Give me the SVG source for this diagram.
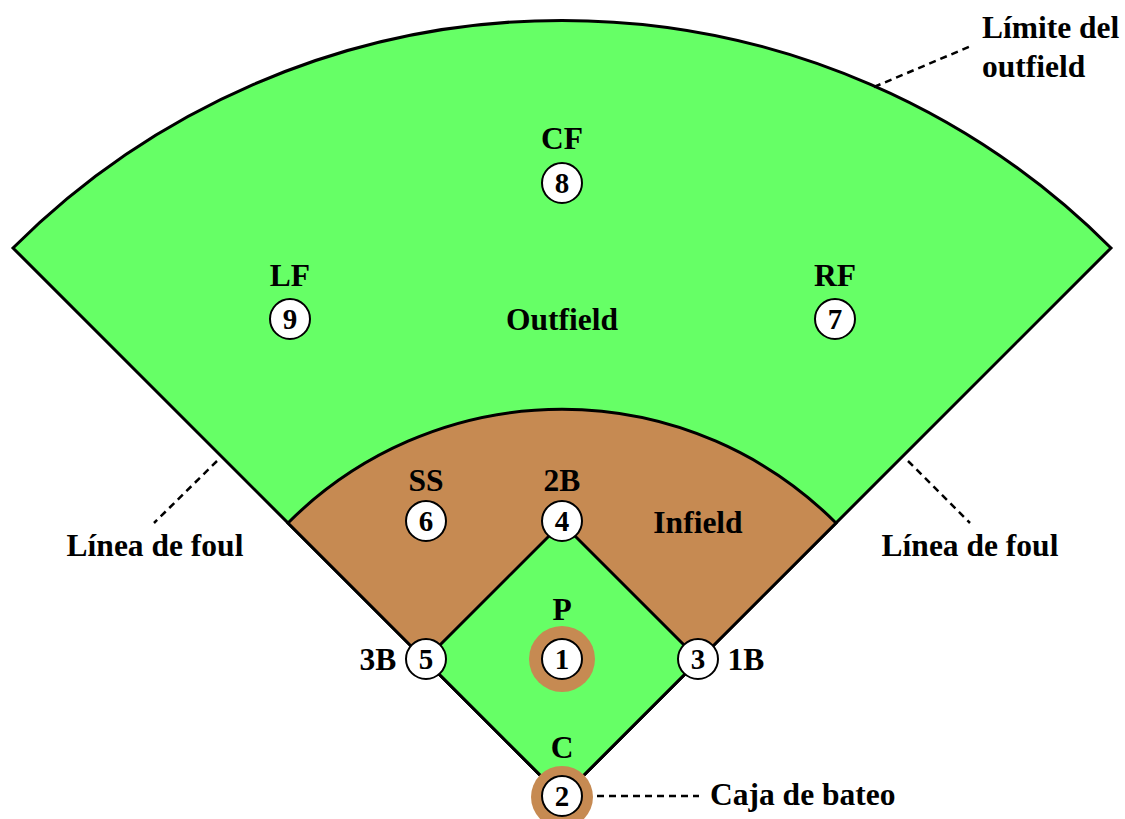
<svg xmlns="http://www.w3.org/2000/svg" width="1125" height="819" viewBox="0 0 1125 819">
<style>
.lbl{font-family:"Liberation Serif","Times New Roman",serif;font-weight:bold;font-size:31.5px;fill:#000;text-anchor:middle}
.num{font-family:"Liberation Serif","Times New Roman",serif;font-weight:bold;font-size:29px;fill:#000;text-anchor:middle}
.pc{fill:#fff;stroke:#000;stroke-width:2}
.dash{stroke:#000;stroke-width:2.5;stroke-dasharray:7 5;fill:none}
</style>
<rect width="1125" height="819" fill="#fff"/>
<g id="field">
<path d="M562,797 L13,248 A776,776 0 0 1 1111,248 Z" fill="#66ff66" stroke="#000" stroke-width="3" stroke-linejoin="miter"/>
<path d="M562,797 L288,523 A387,387 0 0 1 836,523 Z" fill="#c68a52" stroke="#000" stroke-width="3"/>
<path d="M562,797 L425,660 L562,523 L699,660 Z" fill="#66ff66" stroke="#000" stroke-width="3"/>
<circle cx="562" cy="659" r="33" fill="#c68a52"/>
<circle cx="562" cy="797" r="31" fill="#c68a52"/>
</g>
<g id="connectors">
<line class="dash" x1="217" y1="461" x2="154" y2="523"/>
<line class="dash" x1="908" y1="461" x2="970" y2="523"/>
<line class="dash" x1="874" y1="87" x2="971" y2="46"/>
<line class="dash" x1="597" y1="796" x2="699" y2="796"/>
</g>
<g id="cf"><text class="lbl" x="562" y="149">CF</text><circle class="pc" cx="562" cy="183" r="20"/><text class="num" x="562" y="193">8</text></g>
<g id="lf"><text class="lbl" x="290" y="286">LF</text><circle class="pc" cx="290" cy="319" r="20"/><text class="num" x="290" y="329">9</text></g>
<g id="rf"><text class="lbl" x="835" y="286">RF</text><circle class="pc" cx="835" cy="319" r="20"/><text class="num" x="835" y="329">7</text></g>
<g id="ss"><text class="lbl" x="426" y="491">SS</text><circle class="pc" cx="426" cy="521" r="20"/><text class="num" x="426" y="531">6</text></g>
<g id="b2"><text class="lbl" x="562" y="491">2B</text><circle class="pc" cx="562" cy="521" r="20"/><text class="num" x="562" y="531">4</text></g>
<g id="b3"><text class="lbl" x="378" y="670">3B</text><circle class="pc" cx="426" cy="659" r="20"/><text class="num" x="426" y="669">5</text></g>
<g id="b1"><text class="lbl" x="746" y="670">1B</text><circle class="pc" cx="698" cy="659" r="20"/><text class="num" x="698" y="669">3</text></g>
<g id="p"><text class="lbl" x="562" y="620">P</text><circle class="pc" cx="562" cy="659" r="20"/><text class="num" x="562" y="669">1</text></g>
<g id="c"><text class="lbl" x="562" y="758">C</text><circle class="pc" cx="562" cy="796" r="20"/><text class="num" x="562" y="806">2</text></g>
<g id="labels">
<text class="lbl" x="562" y="330">Outfield</text>
<text class="lbl" x="698" y="533">Infield</text>
<text class="lbl" x="155" y="556">Línea de foul</text>
<text class="lbl" x="970" y="556">Línea de foul</text>
<text class="lbl" x="982" y="38" style="text-anchor:start">Límite del</text>
<text class="lbl" x="982" y="77" style="text-anchor:start">outfield</text>
<text class="lbl" x="710" y="805" style="text-anchor:start">Caja de bateo</text>
</g>
</svg>
